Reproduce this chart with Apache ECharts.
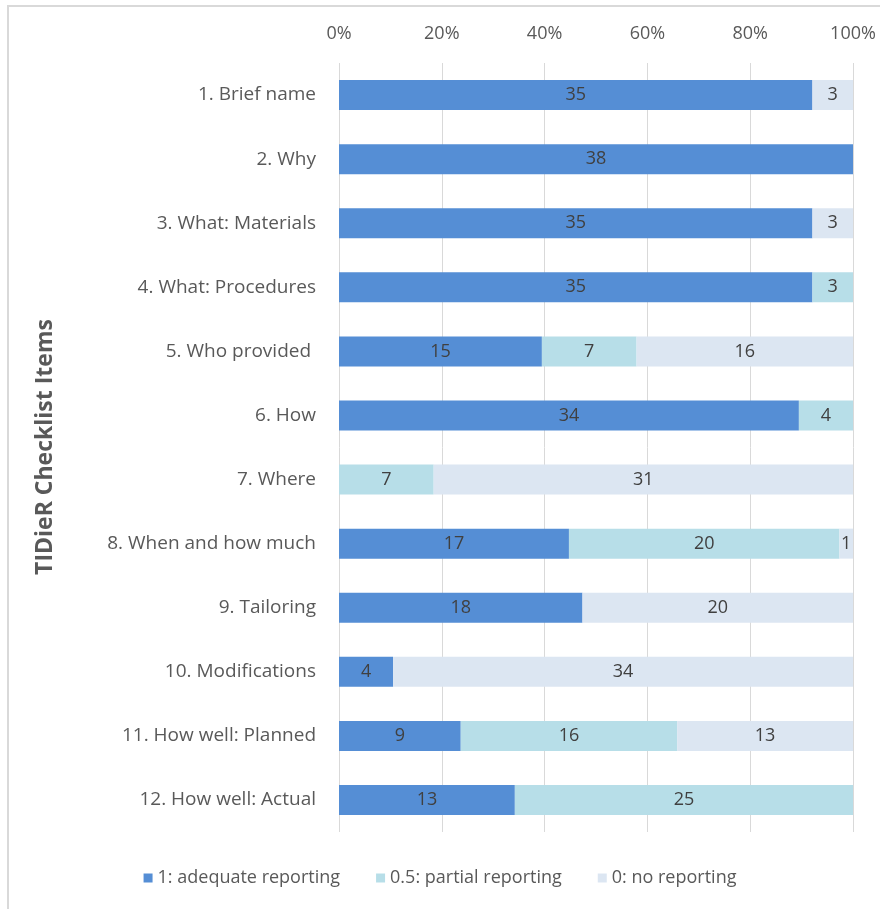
<!DOCTYPE html>
<html>
<head>
<meta charset="utf-8">
<script src="https://cdn.jsdelivr.net/npm/echarts@6/dist/echarts.min.js"></script>
<style>html,body{margin:0;padding:0;background:#fff}#c{width:880px;height:909px}</style>
</head>
<body>
<div id="c"></div>
<script>
var categories = ["1. Brief name","2. Why","3. What: Materials","4. What: Procedures","5. Who provided ","6. How","7. Where","8. When and how much","9. Tailoring","10. Modifications","11. How well: Planned","12. How well: Actual"];
var adequate = [35,38,35,35,15,34,0,17,18,4,9,13];
var partial  = [0,0,0,3,7,4,7,20,0,0,16,25];
var none     = [3,0,3,0,16,0,31,1,20,34,13,0];
var tickLabels = ["0%","20%","40%","60%","80%","100%"];
var seriesNames = ["1: adequate reporting","0.5: partial reporting","0: no reporting"];
var colors = ["#558ED5","#B7DEE8","#DCE6F2"];

var totals = categories.map(function(_, i){ return adequate[i]+partial[i]+none[i]; });
function pct(arr){ return arr.map(function(v,i){ return {value: v/totals[i]*100, raw: v}; }); }
var FONT = "Open Sans";
var chart = echarts.init(document.getElementById('c'), null, {renderer:'canvas'});
var mk = function(name, arr, color){
  return {
    name: name, type: 'bar', stack: 'total', barWidth: 30,
    data: pct(arr),
    itemStyle: {color: color},
    label: {show: true, position: 'inside', color: '#404040', fontFamily: FONT, fontSize: 18,
      formatter: function(p){ return p.data.raw === 0 ? '' : String(p.data.raw); }},
    emphasis: {disabled: true}
  };
};
chart.setOption({
  animation: false,
  color: colors,
  grid: {left: 339, right: 27, top: 63, bottom: 77, containLabel: false},
  xAxis: {
    type: 'value', position: 'top', min: 0, max: 100, interval: 20,
    axisLine: {show: false}, axisTick: {show: false},
    splitLine: {show: true, lineStyle: {color: '#D9D9D9', width: 1}},
    axisLabel: {color: '#595959', fontFamily: FONT, fontSize: 18, margin: 20,
      formatter: function(v){ return tickLabels[Math.round(v/20)]; }}
  },
  yAxis: {
    type: 'category', data: categories, inverse: true,
    axisLine: {show: false}, axisTick: {show: false},
    axisLabel: {color: '#595959', fontFamily: FONT, fontSize: 19, margin: 23}
  },
  legend: {
    bottom: 17, left: 'center', itemWidth: 9, itemHeight: 9, itemGap: 36,
    icon: 'rect',
    textStyle: {color: '#595959', fontFamily: FONT, fontSize: 18},
    data: seriesNames
  },
  graphic: [
    {type: 'rect', shape: {x: 8, y: 6, width: 900, height: 940}, style: {fill: 'none', stroke: '#D9D9D9', lineWidth: 2}, silent: true},
    {type: 'text', x: 45, y: 447, rotation: Math.PI/2, style: {text: 'TIDieR Checklist Items', fill: '#595959', font: 'bold 23px ' + FONT, textAlign: 'center', textVerticalAlign: 'middle'}}
  ],
  series: [mk(seriesNames[0], adequate, colors[0]), mk(seriesNames[1], partial, colors[1]), mk(seriesNames[2], none, colors[2])]
});
</script>
</body>
</html>
